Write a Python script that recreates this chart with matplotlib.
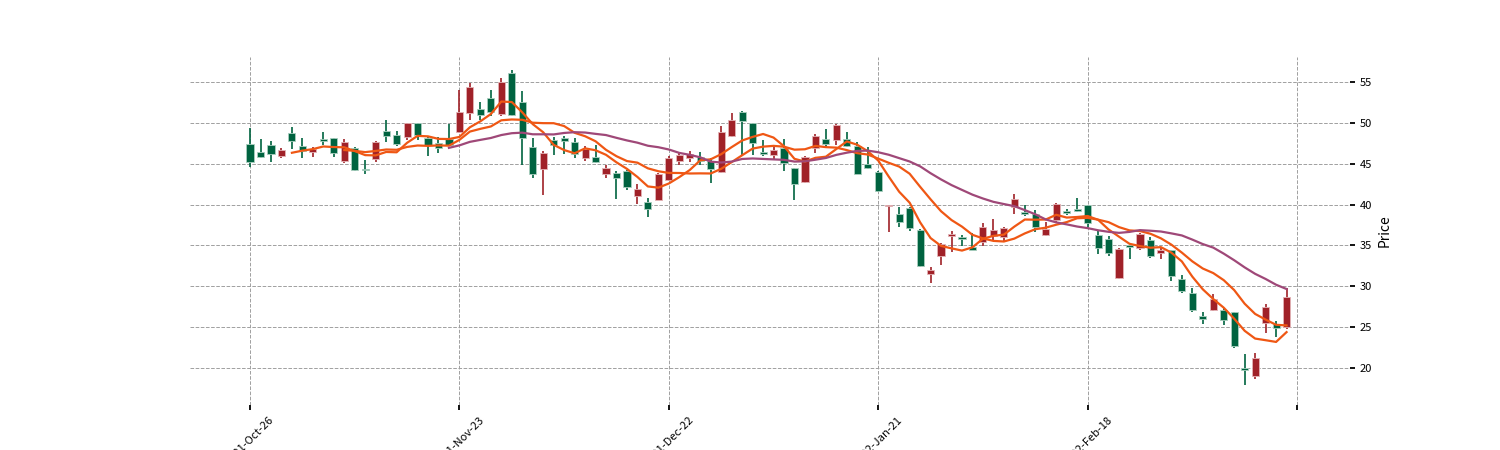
import numpy as np
import pandas as pd
import matplotlib
matplotlib.use("Agg")
import matplotlib.pyplot as plt

plt.rcParams['font.family'] = ['Noto Sans CJK SC', 'DejaVu Sans']

# daily OHLC, 100 sessions
opens = [47.45, 46.4, 47.25, 46.0, 48.75, 47.15, 46.45, 48.05, 48.2, 45.3,
         46.9, 44.35, 45.6, 48.95, 48.55, 48.25, 50.0, 48.1, 47.55, 48.0,
         48.9, 51.25, 51.65, 53.05, 51.1, 56.1, 52.6, 47.1, 44.35, 47.9,
         48.1, 47.6, 45.7, 45.85, 43.75, 43.9, 44.05, 41.1, 40.35, 40.55,
         43.0, 45.3, 45.75, 45.85, 45.35, 44.0, 48.4, 51.3, 49.95, 46.45,
         46.05, 46.9, 44.5, 42.8, 46.9, 48.0, 47.9, 48.0, 47.15, 44.95,
         44.0, 39.8, 38.85, 39.55, 36.9, 31.5, 33.75, 36.15, 36.05, 34.85,
         35.45, 36.15, 36.05, 39.75, 39.1, 38.8, 36.3, 38.1, 39.25, 39.45,
         39.95, 36.3, 35.8, 31.0, 35.0, 34.65, 35.65, 34.1, 34.45, 30.9,
         29.15, 26.35, 27.1, 27.15, 26.8, 19.95, 19.0, 25.55, 25.4, 25.05]
highs = [49.4, 48.05, 47.8, 46.9, 49.55, 48.2, 47.05, 48.85, 48.2, 48.05,
         47.0, 45.5, 47.8, 50.4, 48.95, 50.0, 50.0, 48.4, 48.25, 49.9,
         54.0, 54.9, 52.55, 54.0, 55.45, 56.45, 53.9, 48.2, 46.5, 48.3,
         48.4, 48.2, 47.2, 47.25, 44.85, 44.05, 44.2, 42.5, 40.75, 43.85,
         45.9, 46.3, 46.6, 46.45, 45.65, 49.6, 51.2, 51.45, 49.95, 47.9,
         47.0, 48.0, 44.5, 45.9, 48.6, 49.3, 49.85, 48.9, 47.7, 47.1,
         44.05, 40.0, 39.7, 39.7, 36.95, 32.3, 35.3, 36.8, 36.3, 36.55,
         37.7, 38.2, 37.3, 41.25, 39.9, 39.3, 37.9, 40.15, 39.5, 40.75,
         40.0, 36.9, 36.1, 34.65, 35.05, 36.5, 36.0, 34.65, 34.5, 31.4,
         29.8, 26.9, 29.1, 27.3, 26.9, 21.7, 21.8, 27.8, 25.8, 29.8]
lows = [44.6, 45.7, 45.2, 45.65, 46.75, 45.65, 45.8, 47.35, 45.8, 45.1,
        44.05, 43.8, 45.2, 47.65, 47.15, 47.9, 47.9, 45.95, 46.35, 47.25,
        48.7, 50.3, 50.3, 50.9, 50.9, 50.85, 44.85, 43.2, 41.2, 46.1,
        46.2, 45.7, 45.3, 45.1, 43.2, 40.7, 41.8, 40.1, 38.5, 40.5,
        42.9, 44.9, 45.25, 44.85, 42.7, 43.9, 48.3, 46.05, 46.05, 45.9,
        45.5, 44.1, 40.5, 42.7, 46.35, 47.1, 47.3, 47.0, 43.75, 44.4,
        41.6, 36.6, 37.3, 36.8, 32.4, 30.4, 32.6, 34.2, 34.9, 34.4,
        34.9, 35.6, 35.6, 38.8, 38.6, 36.7, 36.2, 37.9, 38.7, 39.15,
        37.3, 34.0, 33.7, 30.85, 33.3, 34.4, 33.5, 33.3, 30.65, 29.2,
        26.9, 25.4, 27.0, 25.25, 22.5, 17.9, 18.7, 24.3, 23.75, 24.8]
closes = [45.2, 45.8, 46.2, 46.7, 47.8, 46.5, 46.75, 47.8, 46.35, 47.65,
          44.2, 44.25, 47.65, 48.45, 47.45, 50.0, 48.5, 47.35, 46.9, 47.35,
          51.3, 54.4, 51.0, 51.35, 55.0, 51.0, 48.1, 43.8, 46.35, 47.3,
          47.8, 46.15, 46.8, 45.2, 44.5, 43.2, 42.15, 41.85, 39.4, 43.75,
          45.75, 46.05, 46.2, 45.35, 44.35, 48.9, 50.35, 50.25, 47.55, 46.15,
          46.7, 45.05, 42.55, 45.85, 48.45, 47.4, 49.75, 47.2, 43.8, 44.5,
          41.7, 39.95, 37.9, 37.1, 32.5, 32.05, 35.15, 36.4, 35.75, 34.5,
          37.3, 36.9, 37.15, 40.65, 38.85, 37.2, 37.0, 40.05, 38.95, 39.2,
          37.8, 34.7, 34.1, 34.55, 34.85, 36.4, 33.7, 34.45, 31.2, 29.45,
          27.1, 25.95, 28.5, 25.9, 22.7, 19.7, 21.2, 27.5, 24.85, 28.7]

tick_pos = [0, 20, 40, 60, 80, 100]
tick_labels = ['2021-Oct-26', '2021-Nov-23', '2021-Dec-22', '2022-Jan-21', '2022-Feb-18', '']
mav_windows = [5, 10, 20]
mav_colors = ['#ef5714', '#ef5714', '#9f4878']

df = pd.DataFrame({'Open': opens, 'High': highs, 'Low': lows, 'Close': closes})
x = np.arange(len(df))
up = df['Close'] >= df['Open']
colors = np.where(up, '#a02128', '#006340')
edges = np.where(up, '#e3b3b6', '#a9cfbf')

fig = plt.figure(figsize=(15, 4.5), dpi=100)
ax = fig.add_axes([0.1267, 0.1, 0.7733, 0.7733])

# wicks then bodies
ax.vlines(x, df['Low'], df['High'], colors=colors, linewidth=1.2, zorder=2)
bottom = np.minimum(df['Open'], df['Close'])
height = np.maximum(np.abs(df['Close'] - df['Open']), 0.08)
ax.bar(x, height, bottom=bottom, width=0.68, color=colors,
       edgecolor=edges, linewidth=0.6, zorder=3)

# moving averages
for w, c in zip(mav_windows, mav_colors):
    ax.plot(x, df['Close'].rolling(w).mean(), color=c, linewidth=1.6, zorder=4)

ax.set_xlim(-5.73, 105.06)
ax.set_ylim(15.47, 58.06)
ax.set_xticks(tick_pos)
ax.set_xticklabels(tick_labels, rotation=45, ha='center', fontsize=8)
ax.set_yticks([20, 25, 30, 35, 40, 45, 50, 55])
ax.yaxis.tick_right()
ax.yaxis.set_label_position('right')
ax.set_ylabel('Price', fontsize=10)
ax.tick_params(axis='both', labelsize=8, length=3.5, width=1.3)
ax.grid(True, linestyle='--', color='#a0a0a0', linewidth=0.7)
ax.set_axisbelow(True)
for s in ax.spines.values():
    s.set_visible(False)

fig.savefig('out.png', dpi=100)
